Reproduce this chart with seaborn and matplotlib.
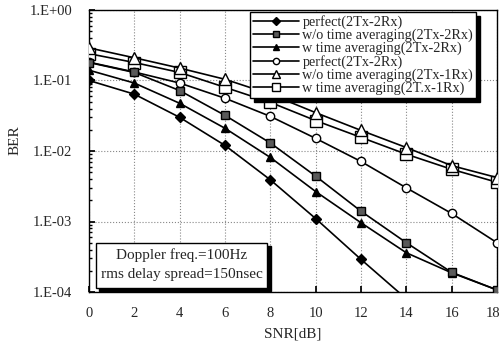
import numpy as np
import pandas as pd
import matplotlib
matplotlib.use("Agg")
import matplotlib.pyplot as plt
import matplotlib.transforms as mtransforms
import seaborn as sns
from matplotlib.patches import Rectangle
from matplotlib.ticker import FixedLocator, FuncFormatter, LogLocator, NullFormatter

snr = [0, 2, 4, 6, 8, 10, 12, 14, 16, 18]
perfect_2tx2rx_a = [0.10, 0.064, 0.030, 0.012, 0.0039, 0.0011, 0.00029, 0.00008]
wo_avg_2tx2rx = [0.18, 0.13, 0.072, 0.032, 0.013, 0.0044, 0.0014, 0.0005, 0.00019, 0.000107]
w_avg_2tx2rx = [0.14, 0.092, 0.0475, 0.021, 0.0081, 0.00266, 0.00096, 0.00036, 0.000187, 0.000107]
perfect_2tx2rx_b = [0.182, 0.132, 0.092, 0.056, 0.031, 0.0151, 0.0071, 0.0030, 0.0013, 0.0005]
wo_avg_2tx1rx = [0.29, 0.21, 0.15, 0.104, 0.064, 0.035, 0.0196, 0.0112, 0.0062, 0.0042]
w_avg_2tx1rx = [0.24, 0.18, 0.13, 0.080, 0.049, 0.027, 0.0156, 0.0090, 0.0055, 0.0036]

labels = ["perfect(2Tx-2Rx)", "w/o time averaging(2Tx-2Rx)", "w time averaging(2Tx-2Rx)",
          "perfect(2Tx-2Rx)", "w/o time averaging(2Tx-1Rx)", "w time averaging(2T.x-1Rx)"]
series = [perfect_2tx2rx_a, wo_avg_2tx2rx, w_avg_2tx2rx, perfect_2tx2rx_b, wo_avg_2tx1rx, w_avg_2tx1rx]
styles = [
    dict(marker="D", markersize=5, markerfacecolor="black", markeredgecolor="black"),
    dict(marker="s", markersize=6, markerfacecolor="#5a5a5a", markeredgecolor="black"),
    dict(marker="^", markersize=6, markerfacecolor="black", markeredgecolor="black"),
    dict(marker="o", markersize=6, markerfacecolor="white", markeredgecolor="black"),
    dict(marker="^", markersize=8, markerfacecolor="white", markeredgecolor="black"),
    dict(marker="s", markersize=8, markerfacecolor="white", markeredgecolor="black"),
]

sns.set_theme(style="white")
plt.rcParams["font.family"] = ["Liberation Serif", "DejaVu Serif"]

fig = plt.figure(figsize=(5.0, 3.45), dpi=100)
ax = fig.add_axes([89/500, 1-292/345, (497-89)/500, (292-10)/345])

for i, (lab, vals, st) in enumerate(zip(labels, series, styles)):
    df = pd.DataFrame({"SNR": snr[:len(vals)], "BER": vals})
    sns.lineplot(data=df, x="SNR", y="BER", ax=ax, color="black", linewidth=1.2,
                 markeredgewidth=1.0, label=lab, zorder=5 - i * 0.1, clip_on=True, **st)

ax.set_yscale("log")
ax.set_ylim(1e-4, 1.0)
ax.set_xlim(0, 18)
ax.xaxis.set_major_locator(FixedLocator(snr))
ax.yaxis.set_major_locator(FixedLocator([1e-4, 1e-3, 1e-2, 1e-1, 1.0]))
ax.yaxis.set_minor_locator(LogLocator(base=10, subs=np.arange(2, 10)))
ax.yaxis.set_minor_formatter(NullFormatter())
ax.yaxis.set_major_formatter(FuncFormatter(lambda v, p: "1.E%+03d" % int(round(np.log10(v)))))

ax.grid(True, which="major", linestyle=":", color="#888888", linewidth=0.8)
ax.tick_params(axis="both", which="major", direction="in", length=4, labelsize=10.5, pad=12,
               left=True, bottom=True, color="black")
ax.tick_params(axis="y", which="minor", direction="in", length=2, left=True, color="black")
ax.tick_params(axis="x", pad=11)
for s in ax.spines.values():
    s.set_color("black")
    s.set_linewidth(1.0)

fig.canvas.draw()
last = ax.get_xticklabels()[-1]
last.set_transform(last.get_transform() + mtransforms.ScaledTranslation(-4/100, 0, fig.dpi_scale_trans))

ax.set_xlabel("SNR[dB]", fontsize=11)
ax.set_ylabel("BER", fontsize=11)
ax.xaxis.set_label_coords(0.5, -0.125)
ax.yaxis.set_label_coords(-0.165, 0.54)

leg = ax.legend(loc="upper left", bbox_to_anchor=(0.395, 0.993), borderaxespad=0,
                frameon=True, fancybox=False, fontsize=10.3, handlelength=3.2,
                labelspacing=-0.02, borderpad=0.2, handletextpad=0.25, markerscale=0.75,
                shadow={"ox": 3, "oy": -3, "color": "black", "alpha": 1})
leg.get_frame().set_edgecolor("black")
leg.get_frame().set_linewidth(1.0)
leg.set_zorder(20)

# annotation box with shadow
x0, y0, w, h = 0.017, 0.014, 0.42, 0.16
ax.add_patch(Rectangle((x0 + 0.008, y0 - 0.012), w, h, transform=ax.transAxes,
                       facecolor="black", edgecolor="black", zorder=8, clip_on=False))
ax.add_patch(Rectangle((x0, y0), w, h, transform=ax.transAxes,
                       facecolor="white", edgecolor="black", linewidth=1.0, zorder=9, clip_on=False))
ax.text(x0 + w / 2, y0 + h * 0.72, "Doppler freq.=100Hz", transform=ax.transAxes,
        ha="center", va="center", fontsize=11, zorder=10)
ax.text(x0 + w / 2, y0 + h * 0.30, "rms delay spread=150nsec", transform=ax.transAxes,
        ha="center", va="center", fontsize=11, zorder=10)

fig.savefig("out.png", dpi=100)
